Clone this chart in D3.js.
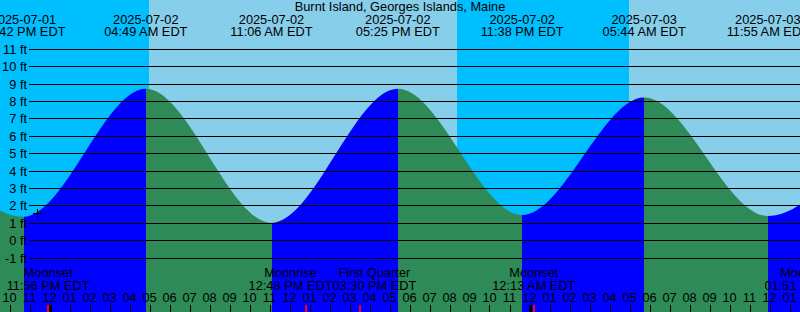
<!DOCTYPE html>
<html>
<head>
<meta charset="utf-8">
<script src="https://cdn.jsdelivr.net/npm/d3@7"></script>
<style>
  html, body { margin: 0; padding: 0; background: #fff; }
  svg { display: block; }
  text { font-family: "Liberation Sans", Arial, sans-serif; font-size: 12.8px; fill: #000; }
</style>
</head>
<body>
<svg id="chart" width="800" height="312"></svg>
<script>
// ---------------- data ----------------
const title = "Burnt Island, Georges Islands, Maine";
const chartStart = "2025-07-01 21:31:30";
const chartEnd = "2025-07-03 13:31:30";

// tide extremes (local EDT times), heights in ft
const tideTimes = ["2025-07-01 16:30:00", "2025-07-01 22:42:00", "2025-07-02 04:49:00", "2025-07-02 11:06:00",
                   "2025-07-02 17:25:00", "2025-07-02 23:38:00", "2025-07-03 05:44:00", "2025-07-03 11:55:00",
                   "2025-07-03 18:05:00"];
const tideHeights = [8.6, 1.35, 8.7, 1.0, 8.7, 1.45, 8.2, 1.4, 8.5];

// sun
const sunriseTimes = ["2025-07-02 04:58:00", "2025-07-03 04:59:00"];
const sunsetTimes = ["2025-07-01 20:23:00", "2025-07-02 20:23:00", "2025-07-03 20:22:00"];

// moon events
const moonNames = ["Moonset", "Moonrise", "First Quarter", "Moonset", "Moonrise"];
const moonTimes = ["2025-07-01 23:56:00", "2025-07-02 12:48:00", "2025-07-02 15:30:00", "2025-07-03 00:13:00", "2025-07-03 13:51:00"];

// current-time marker
const nowTime = "2025-07-01 23:22:00";
const nowHeight = 1.55;

// y-axis ticks (ft)
const yTicks = [-1, 0, 1, 2, 3, 4, 5, 6, 7, 8, 9, 10, 11];

// ---------------- setup ----------------
const W = 800, H = 312;
const parse = d3.utcParse("%Y-%m-%d %H:%M:%S");
const svg = d3.select("#chart");

const x = d3.scaleUtc().domain([parse(chartStart), parse(chartEnd)]).range([0, W]);
const y = d3.scaleLinear().domain([0, 11]).range([240.3, 48.7]);

const colNight = "#00BFFF", colDay = "#87CEEB", colRise = "#0000FF", colFall = "#2E8B57";

// ---------------- sky ----------------
svg.append("rect").attr("x", 0).attr("y", 0).attr("width", W).attr("height", H).attr("fill", colNight);
const rises = sunriseTimes.map(parse), sets = sunsetTimes.map(parse);
rises.forEach(r => {
  const s = sets.find(d => d > r);
  const x0 = Math.round(x(r)), x1 = Math.round(x(s));
  svg.append("rect").attr("x", x0).attr("y", 0).attr("width", x1 - x0).attr("height", H).attr("fill", colDay);
});

// ---------------- water ----------------
const tides = tideTimes.map((t, i) => ({ t: parse(t), h: tideHeights[i] }));
const area = d3.area().x(d => x(d.t)).y0(H).y1(d => y(d.h)).curve(d3.curveMonotoneX);

const defs = svg.append("defs");
defs.append("clipPath").attr("id", "waterClip").append("path").attr("d", area(tides));

const water = svg.append("g").attr("clip-path", "url(#waterClip)");
for (let i = 0; i < tides.length - 1; i++) {
  const a = tides[i], b = tides[i + 1];
  const x0 = Math.round(x(a.t)), x1 = Math.round(x(b.t));
  water.append("rect").attr("x", x0).attr("y", 0).attr("width", x1 - x0).attr("height", H)
    .attr("fill", b.h > a.h ? colRise : colFall);
}

// ---------------- grid + y labels ----------------
const grid = svg.append("g");
yTicks.forEach(v => {
  const yy = Math.round(y(v)) + 0.5;
  grid.append("line").attr("x1", 29).attr("x2", W).attr("y1", yy).attr("y2", yy)
    .attr("stroke", "#000").attr("stroke-width", 1).attr("shape-rendering", "crispEdges");
  grid.append("text").attr("x", 27).attr("y", yy + 4.5).attr("text-anchor", "end").text(v + " ft");
});

// ---------------- title + tide labels ----------------
svg.append("text").attr("x", 400).attr("y", 11).attr("text-anchor", "middle").text(title);
const fmtDate = d3.utcFormat("%Y-%m-%d");
const fmtTime = d3.utcFormat("%I:%M %p EDT");
tides.forEach(d => {
  const xx = x(d.t);
  if (xx < -60 || xx > W + 60) return;
  svg.append("text").attr("x", xx).attr("y", 23.5).attr("text-anchor", "middle").text(fmtDate(d.t));
  svg.append("text").attr("x", xx).attr("y", 36).attr("text-anchor", "middle").text(fmtTime(d.t));
});

// ---------------- now marker ----------------
const nx = Math.round(x(parse(nowTime))) + 0.5, ny = Math.round(y(nowHeight)) + 0.5;
svg.append("path").attr("d", `M${nx - 4.5},${ny}H${nx + 4.5}M${nx},${ny - 4.5}V${ny + 4.5}`)
  .attr("stroke", "#000").attr("stroke-width", 1).attr("shape-rendering", "crispEdges");

// ---------------- hour axis ----------------
const hours = d3.utcHour.range(d3.utcHour.ceil(x.domain()[0]), x.domain()[1]);
const fmtHour = d3.utcFormat("%I");
const axis = svg.append("g");
hours.forEach(h => {
  const xx = Math.round(x(h));
  const midnight = h.getUTCHours() === 0;
  axis.append("rect").attr("x", midnight ? xx - 1 : xx).attr("y", 305)
    .attr("width", midnight ? 3 : 1).attr("height", 7).attr("fill", "#000");
  axis.append("text").attr("x", x(h)).attr("y", 301.5).attr("text-anchor", "middle").text(fmtHour(h));
});

// ---------------- moon events ----------------
const moon = moonTimes.map((t, i) => ({ t: parse(t), name: moonNames[i] }));
const measure = svg.append("text").attr("x", -999).attr("y", -999);
moon.forEach(d => {
  d.x = x(d.t);
  d.label = fmtTime(d.t);
  measure.text(d.name); const w1 = measure.node().getComputedTextLength();
  measure.text(d.label); const w2 = measure.node().getComputedTextLength();
  d.w = Math.max(w1, w2);
  d.cx = d.x;
});
measure.remove();
// resolve overlaps by pushing neighbours apart symmetrically
for (let i = 0; i < moon.length - 1; i++) {
  const a = moon[i], b = moon[i + 1];
  const overlap = (a.cx + a.w / 2) - (b.cx - b.w / 2);
  if (overlap > 0) { a.cx -= overlap / 2; b.cx += overlap / 2; }
}
moon.forEach(d => {
  axis.append("rect").attr("x", Math.round(d.x) - 1).attr("y", 305).attr("width", 2).attr("height", 7).attr("fill", "#FF0000");
  svg.append("text").attr("x", d.cx).attr("y", 277).attr("text-anchor", "middle").text(d.name);
  svg.append("text").attr("x", d.cx).attr("y", 290).attr("text-anchor", "middle").text(d.label);
});
</script>
</body>
</html>
